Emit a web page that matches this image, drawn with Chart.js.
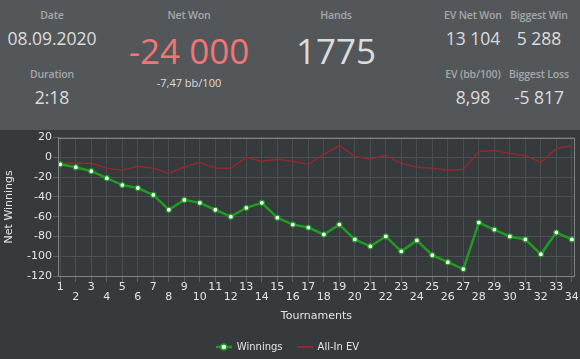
<!DOCTYPE html>
<html>
<head>
<meta charset="utf-8">
<script src="https://cdn.jsdelivr.net/npm/chart.js@4.4.1/dist/chart.umd.min.js"></script>
<style>
  html, body { margin:0; padding:0; width:580px; height:359px; overflow:hidden; background:#363a3d; }
  #hdr { position:absolute; left:0; top:0; width:580px; height:130px; background:#54575a; font-family:"Open Sans", "Noto Sans", sans-serif; }
  .t { position:absolute; transform:translate(-50%,-50%); white-space:nowrap; line-height:1; }
  .lbl { font-size:10.5px; font-weight:600; letter-spacing:-0.15px; color:#a4a7aa; }
  .val { font-size:17.5px; color:#dcdcdc; }
  .big { font-size:35px; color:#dcdcdc; }
  .neg { color:#f07575; }
  .sub { font-size:11px; color:#dcdcdc; }
  #wrap { position:absolute; left:0; top:130px; width:580px; height:236px; }
</style>
</head>
<body>
<div id="hdr">
  <div class="t lbl" style="left:52px;top:15px">Date</div>
  <div class="t val" style="left:52px;top:39px">08.09.2020</div>
  <div class="t lbl" style="left:52px;top:74px">Duration</div>
  <div class="t val" style="left:52px;top:98px">2:18</div>

  <div class="t lbl" style="left:189px;top:15px">Net Won</div>
  <div class="t big neg" style="left:189px;top:50px">-24 000</div>
  <div class="t sub" style="left:189px;top:82px">-7,47 bb/100</div>

  <div class="t lbl" style="left:336px;top:15px">Hands</div>
  <div class="t big" style="left:336px;top:50px">1775</div>

  <div class="t lbl" style="left:473px;top:15px">EV Net Won</div>
  <div class="t val" style="left:473px;top:39px">13 104</div>
  <div class="t lbl" style="left:539px;top:15px">Biggest Win</div>
  <div class="t val" style="left:539px;top:39px">5 288</div>

  <div class="t lbl" style="left:473px;top:74px">EV (bb/100)</div>
  <div class="t val" style="left:473px;top:98px">8,98</div>
  <div class="t lbl" style="left:539px;top:74px">Biggest Loss</div>
  <div class="t val" style="left:539px;top:98px">-5 817</div>
</div>
<div id="wrap"><canvas id="c" width="580" height="236"></canvas></div>
<script>
const tournaments = [1,2,3,4,5,6,7,8,9,10,11,12,13,14,15,16,17,18,19,20,21,22,23,24,25,26,27,28,29,30,31,32,33,34];
const winnings = [-7,-10,-14,-21,-28,-31,-38,-53,-43,-46,-53,-60,-51,-46,-61,-68,-71,-78,-68,-83,-90,-80,-95,-84,-99,-106,-113,-66,-73,-80,-83,-98,-76,-83];
const allInEV = [-6,-6,-6,-11,-13,-9,-11,-16,-10,-5,-11,-11,0,-4,-2,-4,-7,3,12,1,-2,2,-6,-10,-11,-13,-12,6,7,4,2,-5,9,12];
const seriesNames = ["Winnings", "All-In EV"];
const yTitle = "Net Winnings";
const xTitle = "Tournaments";

const GREEN = '#1f9c22';
const RED = '#8e2b30';
const TXT = '#e4e4e4';
const FONT = '"DejaVu Sans", Verdana, sans-serif';

function legendIcon(withPoint, color) {
  const c = document.createElement('canvas');
  c.width = 16; c.height = 8;
  const g = c.getContext('2d');
  g.strokeStyle = color;
  g.lineWidth = withPoint ? 2.5 : 2;
  g.beginPath(); g.moveTo(0, 4); g.lineTo(16, 4); g.stroke();
  if (withPoint) {
    g.beginPath(); g.arc(8, 4, 3, 0, Math.PI * 2);
    g.fillStyle = '#ffffff'; g.fill();
    g.lineWidth = 1.5; g.strokeStyle = color; g.stroke();
  }
  return c;
}
const icons = [legendIcon(true, GREEN), legendIcon(false, RED)];

const framePlugin = {
  id: 'frame',
  afterDatasetsDraw(chart) {
    const a = chart.chartArea, ctx = chart.ctx;
    ctx.save();
    ctx.strokeStyle = '#808386';
    ctx.lineWidth = 1;
    ctx.strokeRect(Math.round(a.left) + 0.5, Math.round(a.top) + 0.5, Math.round(a.right - a.left) - 1, Math.round(a.bottom - a.top));
    ctx.restore();
  }
};

new Chart(document.getElementById('c'), {
  type: 'line',
  data: {
    datasets: [
      {
        label: seriesNames[0],
        data: tournaments.map((t, i) => ({x: t, y: winnings[i]})),
        borderColor: GREEN,
        borderWidth: 2.5,
        pointRadius: 2.5,
        pointBackgroundColor: '#ffffff',
        pointBorderColor: GREEN,
        pointBorderWidth: 1.2,
        tension: 0
      },
      {
        label: seriesNames[1],
        data: tournaments.map((t, i) => ({x: t, y: allInEV[i]})),
        borderColor: RED,
        borderWidth: 1.5,
        pointRadius: 0,
        tension: 0
      }
    ]
  },
  options: {
    responsive: false,
    animation: false,
    devicePixelRatio: 1,
    layout: { padding: { top: 7, right: 5, left: 0, bottom: 4 } },
    scales: {
      x: {
        type: 'linear',
        min: 0.85,
        max: 34.19,
        afterFit(s) { s.height = 52; },
        ticks: {
          stepSize: 1,
          maxTicksLimit: 100,
          includeBounds: false,
          autoSkip: false,
          maxRotation: 0,
          padding: 0,
          color: TXT,
          font: { family: FONT, size: 11, lineHeight: '10px' },
          callback(v) {
            const i = tournaments.indexOf(v);
            if (i < 0) return '';
            return i % 2 === 0 ? String(tournaments[i]) : ['', String(tournaments[i])];
          }
        },
        grid: { color: '#4b4e51', tickColor: '#5c5f62', tickLength: 6 },
        border: { color: '#808386' },
        title: { display: true, text: xTitle, color: TXT, font: { family: FONT, size: 11 }, padding: { top: 0, bottom: 5 } }
      },
      y: {
        min: -120,
        max: 20,
        afterFit(s) { s.width = 58; },
        ticks: { stepSize: 20, padding: 1, color: TXT, font: { family: FONT, size: 11 } },
        grid: { color: '#4e5154', tickColor: '#5c5f62', tickLength: 5 },
        border: { color: '#808386' },
        title: { display: true, text: yTitle, color: TXT, font: { family: FONT, size: 11 }, padding: { top: 3, bottom: 0 } }
      }
    },
    plugins: {
      tooltip: { enabled: false },
      legend: {
        position: 'bottom',
        labels: {
          usePointStyle: true,
          pointStyleWidth: 16,
          padding: 14,
          color: TXT,
          font: { family: FONT, size: 10 },
          generateLabels(chart) {
            const items = Chart.defaults.plugins.legend.labels.generateLabels(chart);
            items.forEach((it, i) => { it.pointStyle = icons[i]; });
            return items;
          }
        }
      }
    }
  },
  plugins: [framePlugin]
});
</script>
</body>
</html>
